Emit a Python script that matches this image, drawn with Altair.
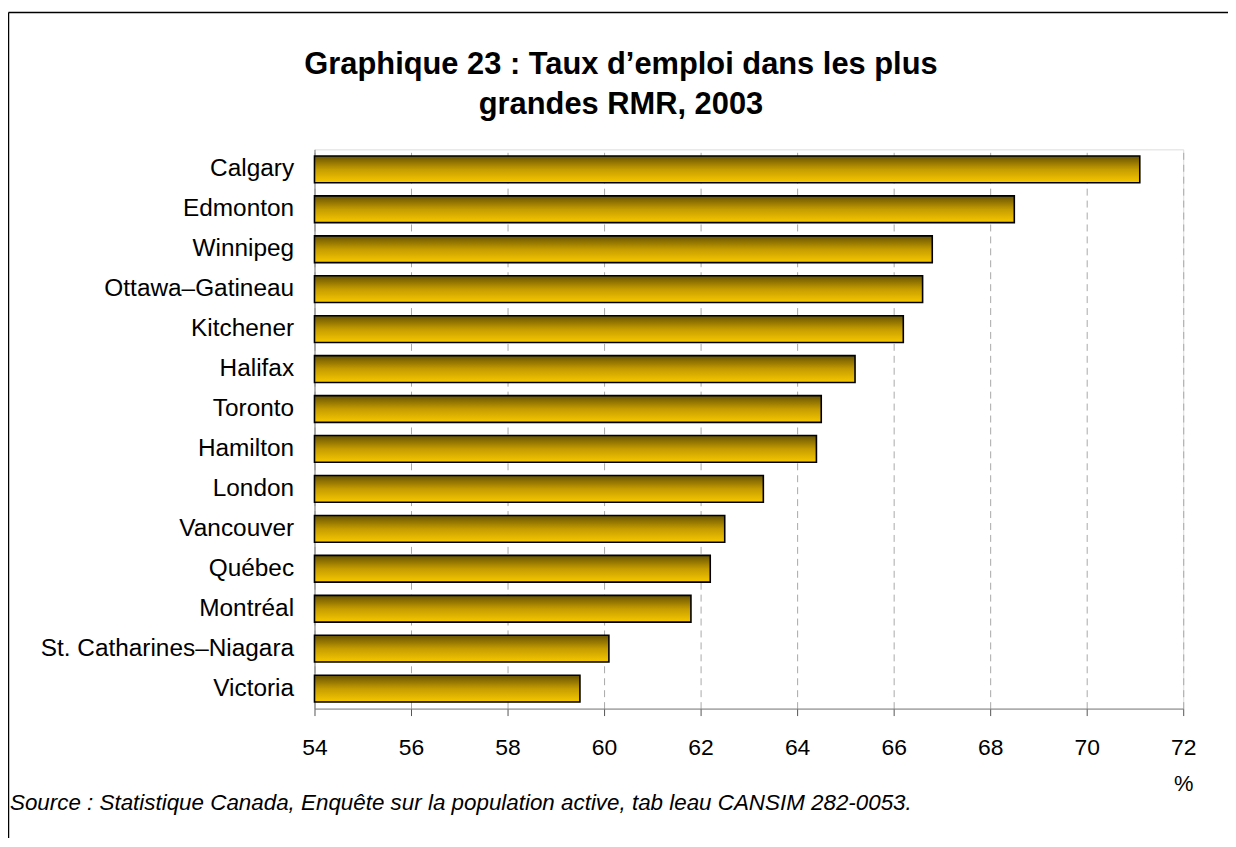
import altair as alt
import pandas as pd

cities = ["Calgary", "Edmonton", "Winnipeg", "Ottawa–Gatineau", "Kitchener", "Halifax",
          "Toronto", "Hamilton", "London", "Vancouver", "Québec", "Montréal",
          "St. Catharines–Niagara", "Victoria"]
rates = [71.1, 68.5, 66.8, 66.6, 66.2, 65.2, 64.5, 64.4, 63.3, 62.5, 62.2, 61.8, 60.1, 59.5]
x_ticks = [54, 56, 58, 60, 62, 64, 66, 68, 70, 72]
title_text = "Graphique 23 : Taux d’emploi dans les plus\ngrandes RMR, 2003"
source_text = "Source : Statistique Canada, Enquête sur la population active, tab leau CANSIM 282-0053."

df = pd.DataFrame({"city": cities, "rate": rates})

W, H = 873, 562
FONT = "Liberation Sans"

gradient = alt.Gradient(
    gradient="linear", x1=0, x2=0, y1=0, y2=1,
    stops=[alt.GradientStop(color="#665200", offset=0),
           alt.GradientStop(color="#c49c00", offset=0.5),
           alt.GradientStop(color="#f8c800", offset=1)],
)

bars = alt.Chart(df).mark_bar(color=gradient, stroke="black", strokeWidth=1.6).encode(
    x=alt.X("rate:Q",
            scale=alt.Scale(domain=[54, 72], nice=False, zero=False, clamp=True),
            axis=alt.Axis(values=x_ticks, title="%", titleX=W, titleY=75,
                          titleAlign="center", titleBaseline="middle",
                          titleFontWeight="normal", titleFontSize=22, titleFont=FONT,
                          titleColor="black", labelFlush=False,
                          labelFontSize=23, labelFont=FONT, labelColor="black",
                          labelPadding=21, tickSize=7, tickColor="#555555",
                          domainColor="#808080",
                          grid=True, gridDash=[7, 5], gridColor="#a8a8a8", gridWidth=1)),
    y=alt.Y("city:N", sort=cities,
            scale=alt.Scale(paddingInner=0.33, paddingOuter=0.165),
            axis=alt.Axis(title=None, ticks=False, labelFontSize=24.5, labelFont=FONT,
                          labelColor="black", labelPadding=21, labelLimit=400,
                          domainColor="#808080", grid=False)),
)

title = alt.Chart(pd.DataFrame({"t": [title_text]})).mark_text(
    align="center", baseline="alphabetic", font=FONT, fontSize=31, fontWeight="bold",
    color="black", lineBreak="\n", lineHeight=40
).encode(text="t:N", x=alt.value(308), y=alt.value(-76))

source = alt.Chart(pd.DataFrame({"t": [source_text]})).mark_text(
    align="left", baseline="middle", font=FONT, fontSize=22.5, fontStyle="italic", color="black"
).encode(text="t:N", x=alt.value(-306), y=alt.value(657))

frame_top = alt.Chart(pd.DataFrame({"a": [0]})).mark_rule(color="black", strokeWidth=1.5).encode(
    x=alt.value(-307.5), x2=alt.value(W + 60), y=alt.value(-137.5))
frame_left = alt.Chart(pd.DataFrame({"a": [0]})).mark_rule(color="black", strokeWidth=1.5).encode(
    x=alt.value(-307.5), y=alt.value(-137.5), y2=alt.value(H + 200))

chart = alt.layer(frame_top, frame_left, bars, title, source).properties(
    width=W, height=H,
    autosize=alt.AutoSizeParams(type="none"),
    padding={"left": 308, "top": 140, "right": 45, "bottom": 128},
).configure_view(stroke=None).configure(background="white")

chart.save("out.html", embed_options={"renderer": "svg", "actions": False})
